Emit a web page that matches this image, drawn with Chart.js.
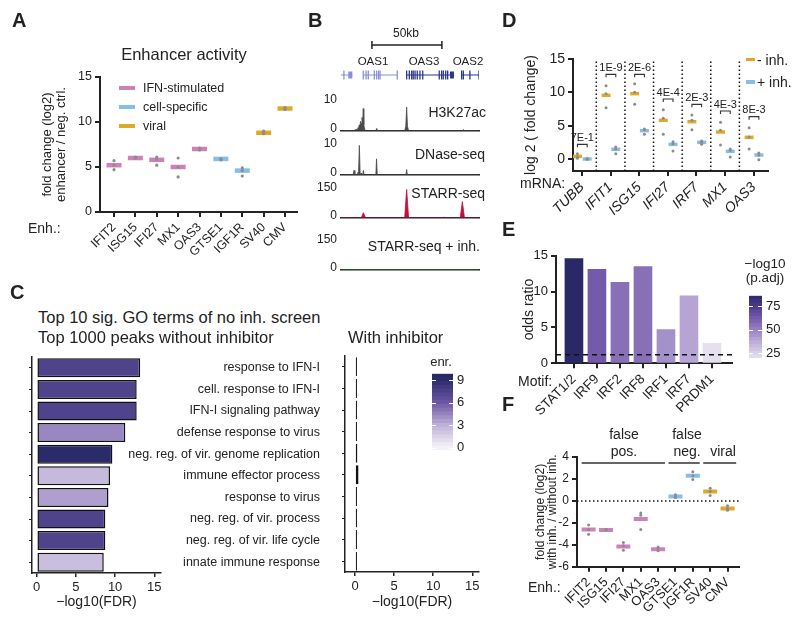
<!DOCTYPE html>
<html>
<head>
<meta charset="utf-8">
<script src="https://cdn.jsdelivr.net/npm/chart.js@4.4.1/dist/chart.umd.min.js"></script>
<style>
  html, body { margin: 0; padding: 0; background: #fff; }
  #fig { position: relative; width: 800px; height: 626px; overflow: hidden;
         font-family: "Liberation Sans", Arial, sans-serif; color: #222; }
  #fig canvas { position: absolute; }
  .t { position: absolute; white-space: nowrap; line-height: 1; }
  .sw { position: absolute; }
</style>
</head>
<body>
<div id="fig"></div>
<script>
/* ============================== DATA ================================== */

// A — enhancer activity, log2 FC enhancer / neg. ctrl.
const enhancers = ["IFIT2", "ISG15", "IFI27", "MX1", "OAS3", "GTSE1", "IGF1R", "SV40", "CMV"];
const enhGroup = ["ifn", "ifn", "ifn", "ifn", "ifn", "cell", "cell", "viral", "viral"];
const activityMedian = [5.2, 6.0, 5.8, 5.0, 7.0, 5.9, 4.6, 8.8, 11.5];
const activityReps = [
  [5.7, 4.7, 5.2], [6.1, 6.0, 6.0], [6.1, 5.2, 5.9], [6.0, 3.9, 5.0], [7.1, 6.9, 7.0],
  [5.9, 5.8, 5.9], [4.9, 4.0, 4.6], [9.0, 8.7, 8.8], [11.6, 11.4, 11.5],
];
const activityTicks = [0, 5, 10, 15];

// B — OAS locus tracks (position in kb)
const geneStart = [-0.7, 15.9, 46.9, 86.2];
const geneEnd = [8.1, 40.2, 80.7, 98.6];
const geneExons = [
  [-0.7, 2.1],
  [15.9, 17.9, 19.5, 23.8, 25.5, 26.9, 27.9, 40.2],
  [46.9, 48.8, 50.5, 51.6, 52.9, 54.5, 56.4, 58.4, 70.2, 71.9, 73.1, 74.8, 76.2],
  [86.2, 87.4, 92.1, 98.6],
];
const geneBlocks = [[5.2, 8.1], null, [77.9, 80.7], null];
const scaleBarKb = [22.1, 72.1];

const h3k27acKb = [0, 9, 10, 11, 11.5, 12, 12.5, 13, 13.5, 14, 14.5, 15, 15.5, 15.9, 16.3, 17, 18,
  24.8, 25.5, 26.2, 45.5, 46.3, 46.9, 47.5, 48.3, 86.5, 87.4, 88.3, 98.6];
const h3k27acVal = [0, 0, 0.3, 0.5, 0.4, 1.0, 0.8, 2.0, 1.5, 3.2, 2.5, 4.5, 3.0, 7.5, 2.0, 0.4, 0,
  0, 0.8, 0, 0, 1.5, 8.0, 1.5, 0, 0, 0.4, 0, 0];
const dnaseKb = [0, 8.7, 9.3, 9.9, 11.5, 12, 12.5, 13.1, 13.7, 14.3, 15.5, 16, 16.5, 24.9, 25.4, 25.9, 46.4, 46.9, 47.4, 98.6];
const dnaseVal = [0, 0, 1.5, 0, 0, 0.8, 0, 10, 0, 0.6, 0, 1.5, 0, 0, 5.4, 0, 0, 1.8, 0, 0];
const starrKb = [0, 14.5, 16, 17.5, 45.5, 46.9, 48.3, 72.3, 73.1, 73.9, 85.2, 86.7, 88.2, 98.6];
const starrVal = [0, 0, 27, 0, 0, 150, 0, 0, 3, 0, 0, 85, 0, 0];
const starrInhKb = [0, 46.5, 46.9, 47.3, 72.7, 73.1, 73.5, 98.6];
const starrInhVal = [0, 0, 1.5, 0, 0, 1.5, 0, 0];

// C — GO terms
const goTerms = ["response to IFN-I", "cell. response to IFN-I", "IFN-I signaling pathway",
  "defense response to virus", "neg. reg. of vir. genome replication", "immune effector process",
  "response to virus", "neg. reg. of vir. process", "neg. reg. of vir. life cycle", "innate immune response"];
const goFdrNoInh = [13.2, 12.75, 12.75, 11.3, 9.65, 9.35, 9.15, 8.75, 8.75, 8.55];
const goEnrNoInh = [7.3, 7.3, 7.3, 4.3, 9.3, 2.5, 3.5, 7.3, 7.3, 2.3];
const goFdrInh = [0.25, 0.25, 0.25, 0.25, 0.3, 0.45, 0.25, 0.25, 0.25, 0.25];
const fdrTicks = [0, 5, 10, 15];
const enrTicks = [0, 3, 6, 9];

// D — mRNA log2 fold change, without / with inhibitor
const mrnaGenes = ["TUBB", "IFIT1", "ISG15", "IFI27", "IRF7", "MX1", "OAS3"];
const mrnaNoInhMedian = [0.4, 9.55, 9.8, 5.8, 5.6, 4.05, 3.25];
const mrnaNoInhReps = [[0.8, 0.3, 0.1], [11.0, 9.8, 7.7], [11.3, 10.0, 8.2], [7.4, 6.1, 3.7],
  [6.6, 5.8, 4.4], [5.5, 4.3, 2.1], [4.7, 3.3, 1.5]];
const mrnaInhMedian = [0.0, 1.45, 4.25, 2.2, 2.5, 1.15, 0.6];
const mrnaInhReps = [[0.05, 0.0, -0.05], [1.8, 1.5, 0.8], [4.5, 4.4, 3.7], [2.6, 2.3, 1.2],
  [2.7, 2.5, 2.2], [1.5, 1.3, 0.3], [0.9, 0.6, -0.1]];
const mrnaPval = ["7E-1", "1E-9", "2E-6", "4E-4", "2E-3", "4E-3", "8E-3"];
const mrnaBracketY = [2.2, 12.7, 12.7, 9.0, 8.2, 7.2, 6.35];
const mrnaTicks = [0, 5, 10, 15];

// E — motif enrichment
const motifs = ["STAT1/2", "IRF9", "IRF2", "IRF8", "IRF1", "IRF7", "PRDM1"];
const motifOdds = [14.6, 13.1, 11.3, 13.5, 4.7, 9.4, 2.8];
const motifPadj = [86, 62, 55, 55, 45, 39, 20];
const oddsThreshold = 1.2;
const oddsTicks = [0, 5, 10, 15];
const padjTicks = [25, 50, 75];

// F — fold change with inh. / without inh.
const inhMedian = [-2.6, -2.65, -4.15, -1.65, -4.4, 0.4, 2.3, 0.85, -0.7];
const inhReps = [[-2.2, -3.05, -2.6], [-2.6, -2.65, -2.6], [-3.8, -4.5, -4.1], [-1.1, -1.3, -2.6],
  [-4.2, -4.55, -4.35], [0.55, 0.35, 0.3], [2.65, 1.95, 2.3], [1.15, 0.5, 0.85], [-0.45, -0.85, -0.7]];
const inhTicks = [-6, -4, -2, 0, 2, 4];
const fGroupSpan = [[-0.4, 4.4], [4.6, 6.4], [6.6, 8.5]];
const fGroupLineY = 3.45;

/* ============================ STYLE =================================== */
const INK = "#222";
const DOT = "#8c8c8c";
const groupColor = { ifn: "#cc82b6", cell: "#86bde9", viral: "#e0a82a" };
const GOLD = "#e0a82a", BLUE = "#86bde9";
const enrStops = [[0, "#f4f2f8"], [3, "#bcaed6"], [6, "#6a55a3"], [9, "#2c2c6c"], [10, "#26275f"]];
const padjStops = [[15, "#f2f0f7"], [40, "#b3a2d3"], [60, "#7a5fae"], [75, "#4b3a92"], [90, "#1f2159"]];

Chart.defaults.font.family = '"Liberation Sans", Arial, sans-serif';
Chart.defaults.font.size = 13;
Chart.defaults.color = INK;
Chart.defaults.animation = false;
Chart.defaults.responsive = false;
Chart.defaults.devicePixelRatio = 1;
Chart.defaults.events = [];
Chart.defaults.plugins.legend.display = false;
Chart.defaults.plugins.tooltip.enabled = false;

/* ============================ HELPERS ================================= */
const fig = document.getElementById("fig");

function canvasAt(x, y, w, h) {
  const c = document.createElement("canvas");
  c.width = w; c.height = h;
  c.style.left = x + "px"; c.style.top = y + "px";
  c.style.width = w + "px"; c.style.height = h + "px";
  fig.appendChild(c);
  return c.getContext("2d");
}

// y is the vertical centre of the text
function text(str, x, y, size, anchor = "left", extra = {}) {
  const d = document.createElement("div");
  d.className = "t";
  d.textContent = str;
  d.style.left = x + "px";
  d.style.top = y + "px";
  d.style.fontSize = size + "px";
  const tx = anchor === "center" ? "-50%" : anchor === "right" ? "-100%" : "0";
  d.style.transform = `translate(${tx}, -50%)`;
  Object.assign(d.style, extra);
  fig.appendChild(d);
}

function swatch(x, y, w, h, color) {
  const d = document.createElement("div");
  d.className = "sw";
  Object.assign(d.style, { left: x + "px", top: (y - h / 2) + "px", width: w + "px", height: h + "px", background: color });
  fig.appendChild(d);
}

function hexToRgb(h) {
  const n = parseInt(h.slice(1), 16);
  return [n >> 16, (n >> 8) & 255, n & 255];
}
function cmap(stops, v) {
  if (v <= stops[0][0]) return stops[0][1];
  for (let k = 1; k < stops.length; k++) {
    if (v <= stops[k][0]) {
      const [v0, c0] = stops[k - 1], [v1, c1] = stops[k];
      const t = (v - v0) / (v1 - v0);
      const a = hexToRgb(c0), b = hexToRgb(c1);
      return `rgb(${a.map((x, j) => Math.round(x + (b[j] - x) * t)).join(",")})`;
    }
  }
  return stops[stops.length - 1][1];
}

// linear axis with fixed box size and explicit ticks
function linAxis(o) {
  return {
    type: "linear", position: o.pos, min: o.min, max: o.max, offset: false,
    afterFit: s => { if (o.size !== undefined) { if (s.isHorizontal()) s.height = o.size; else s.width = o.size; } },
    afterBuildTicks: s => { s.ticks = o.ticks.map(v => ({ value: v })); },
    ticks: {
      display: o.labels !== false, autoSkip: false, padding: o.pad ?? 3, color: INK,
      font: { size: o.fs || 13, style: o.italic ? "italic" : "normal" },
      maxRotation: o.rot || 0, minRotation: o.rot || 0,
      labelOffset: o.labelOffset || 0,
      callback: o.names ? (v => o.names[v]) : (v => v),
    },
    grid: { display: o.tl !== 0, drawOnChartArea: false, drawTicks: o.tl !== 0, tickLength: o.tl ?? 5,
            color: INK, lineWidth: o.lw ?? 2, offset: false },
    border: { display: o.border !== false, color: INK, width: o.lw ?? 2 },
    title: o.title
      ? { display: true, text: o.title, color: INK, font: { size: o.tfs || 13, lineHeight: o.tlh || 1.1 }, padding: o.tpad || 0 }
      : { display: false },
  };
}

function repPoints(reps, dx = 0) {
  return reps.flatMap((r, i) => r.map(v => ({ x: i + dx, y: v })));
}

function cbarTicksPlugin(ticks) {
  return {
    id: "cbarTicks",
    afterDatasetsDraw(chart) {
      const { ctx, chartArea: a, scales: { y } } = chart;
      ctx.save();
      ctx.strokeStyle = "#fff";
      ctx.lineWidth = 1;
      ticks.forEach(v => {
        const py = Math.round(y.getPixelForValue(v)) + 0.5;
        ctx.beginPath();
        ctx.moveTo(a.left, py); ctx.lineTo(a.left + 4, py);
        ctx.moveTo(a.right - 4, py); ctx.lineTo(a.right, py);
        ctx.stroke();
      });
      ctx.restore();
    },
  };
}

function colorbar(x, y, w, h, o) {
  const ctx = canvasAt(x, y, w, h);
  const step = (o.max - o.min) / o.steps;
  const bands = Array.from({ length: o.steps }, (_, k) => o.min + k * step);
  new Chart(ctx, {
    type: "bar",
    data: {
      labels: [""],
      datasets: bands.map(lo => ({
        data: [[lo, lo + step * 1.05]], backgroundColor: cmap(o.stops, lo + step / 2),
        borderWidth: 0, grouped: false, barPercentage: 1, categoryPercentage: 1,
      })),
    },
    options: {
      layout: { padding: o.pad },
      scales: {
        x: { display: false },
        y: linAxis({ pos: "right", min: o.min, max: o.max, ticks: o.ticks, size: o.axisW, tl: 0, border: false, fs: 13, pad: 4 }),
      },
    },
    plugins: [cbarTicksPlugin(o.ticks)],
  });
}

/* ============================ PANEL A ================================= */
(() => {
  const ctx = canvasAt(0, 30, 310, 240);
  new Chart(ctx, {
    type: "scatter",
    data: {
      datasets: [
        { data: repPoints(activityReps), pointRadius: 1.6, pointBackgroundColor: DOT, pointBorderWidth: 0, order: 0 },
        { data: activityMedian.map((v, i) => ({ x: i, y: v })), pointStyle: "line", pointRadius: 7.5,
          pointBorderWidth: 4.5, pointBorderColor: enhGroup.map(g => groupColor[g]), order: 1 },
      ],
    },
    options: {
      layout: { padding: { left: 0, top: 47, right: 13, bottom: 0 } },
      scales: {
        x: linAxis({ pos: "bottom", min: -0.655, max: 8.56, ticks: enhancers.map((_, i) => i), names: enhancers, rot: 45, size: 58, fs: 12.5 }),
        y: linAxis({ pos: "left", min: 0, max: 15, ticks: activityTicks, size: 100, fs: 12.5,
                     title: ["fold change (log2)", "enhancer / neg. ctrl."], tfs: 13, tpad: { top: 40 } }),
      },
    },
  });

  text("A", 12, 20, 20, "left", { fontWeight: "bold" });
  text("Enhancer activity", 184, 53.5, 16.5, "center");
  [["IFN-stimulated", "ifn", 88], ["cell-specific", "cell", 107], ["viral", "viral", 126]].forEach(([lab, g, y]) => {
    swatch(119, y, 16, 4.5, groupColor[g]);
    text(lab, 143, y, 12.5);
  });
  text("Enh.:", 28, 228, 14);
})();

/* ============================ PANEL B ================================= */
(() => {
  // gene models + scale bar
  const ctx = canvasAt(300, 25, 190, 70);
  const geneRowY = 1.7, scaleBarY = 5.3;
  const ds = [];
  geneStart.forEach((s, k) => {
    const col = k < 2 ? "#8a8fd8" : "#2b3590";
    ds.push({ data: [{ x: s, y: geneRowY }, { x: geneEnd[k], y: geneRowY }], showLine: true,
              borderColor: col, borderWidth: 1.2, pointRadius: 0 });
    ds.push({ data: geneExons[k].map(x => ({ x, y: geneRowY })), pointStyle: "line", pointRotation: 90,
              pointRadius: 4.5, pointBorderWidth: 1.3, pointBorderColor: col });
    if (geneBlocks[k]) {
      ds.push({ data: geneBlocks[k].map(x => ({ x, y: geneRowY })), showLine: true,
                borderColor: col, borderWidth: 7, pointRadius: 0 });
    }
  });
  ds.push({ data: scaleBarKb.map(x => ({ x, y: scaleBarY })), showLine: true, borderColor: INK, borderWidth: 1.5,
            pointStyle: "line", pointRotation: 90, pointRadius: 4, pointBorderWidth: 1.5, pointBorderColor: INK });
  new Chart(ctx, {
    type: "scatter",
    data: { datasets: ds },
    options: {
      layout: { padding: { left: 41, top: 0, right: 11, bottom: 0 } },
      scales: {
        x: { type: "linear", display: false, min: 0, max: 98.6 },
        y: { type: "linear", display: false, min: 0, max: 7 },
      },
    },
  });

  function track(top, h, xs, ys, ymax, color) {
    const c = canvasAt(300, top, 190, h);
    new Chart(c, {
      type: "scatter",
      data: { datasets: [{ data: xs.map((x, k) => ({ x, y: ys[k] })), showLine: true, fill: "origin",
                           borderColor: color, backgroundColor: color, borderWidth: 0.8, pointRadius: 0 }] },
      options: {
        layout: { padding: { left: 0, top: 9, right: 11, bottom: 5 } },
        scales: {
          x: { type: "linear", min: 0, max: 98.6, afterFit: s => { s.height = 0; },
               ticks: { display: false }, grid: { display: false, drawTicks: false },
               border: { display: true, color: INK, width: 1.5 } },
          y: linAxis({ pos: "left", min: 0, max: ymax, ticks: [0, ymax], size: 41, tl: 0, border: false, fs: 12, pad: 4, labelOffset: -2 }),
        },
      },
    });
  }
  track(90, 52, h3k27acKb, h3k27acVal, 10, "#4a4a4a");
  track(134, 52, dnaseKb, dnaseVal, 10, "#4a4a4a");
  track(178, 51, starrKb, starrVal, 150, "#c0103a");
  track(230, 51, starrInhKb, starrInhVal, 150, "#2a9a3a");

  text("B", 308, 20, 20, "left", { fontWeight: "bold" });
  text("50kb", 406, 33, 12, "center");
  [["OAS1", 373], ["OAS3", 424], ["OAS2", 468]].forEach(([g, x]) => text(g, x, 61.5, 11.5, "center"));
  text("H3K27ac", 486, 112, 14, "right");
  text("DNase-seq", 485, 154, 14, "right");
  text("STARR-seq", 485, 193, 14, "right");
  text("STARR-seq + inh.", 480, 246, 14, "right");
})();

/* ============================ PANEL C ================================= */
(() => {
  const enrColor = v => cmap(enrStops, v);
  const rowLabels = {
    id: "rowLabels",
    afterDatasetsDraw(chart) {
      const { ctx, scales: { y } } = chart;
      ctx.save();
      ctx.font = '12.5px "Liberation Sans", Arial, sans-serif';
      ctx.fillStyle = INK;
      ctx.textAlign = "right";
      ctx.textBaseline = "middle";
      goTerms.forEach((l, i) => ctx.fillText(l, 320, y.getPixelForValue(i)));
      ctx.restore();
    },
  };
  const catAxis = w => ({
    type: "category", position: "left", afterFit: s => { s.width = w; },
    ticks: { display: false },
    grid: { drawOnChartArea: false, drawTicks: true, tickLength: 3, color: INK, lineWidth: 1, offset: false },
    border: { color: INK, width: 1.5 },
  });
  const fdrAxis = (min, size) => linAxis({ pos: "bottom", min, max: 15.85, ticks: fdrTicks, size, lw: 1.5, tl: 4, fs: 13,
                                            title: "\u2212log10(FDR)", tfs: 14, tpad: { bottom: 5.6 } });

  new Chart(canvasAt(0, 345, 330, 270), {
    type: "bar",
    data: { labels: goTerms, datasets: [{ data: goFdrNoInh, backgroundColor: goEnrNoInh.map(enrColor),
            borderColor: "#111", borderWidth: 1.5, borderSkipped: false, barPercentage: 0.88, categoryPercentage: 1 }] },
    options: {
      indexAxis: "y",
      layout: { padding: { left: 0, top: 12, right: 169, bottom: 0 } },
      scales: { x: fdrAxis(-0.6, 42), y: catAxis(32) },
    },
    plugins: [rowLabels],
  });

  // with inhibitor: bars are barely above zero, so they read as thin black strokes
  new Chart(canvasAt(330, 345, 160, 270), {
    type: "bar",
    data: { labels: goTerms, datasets: [{ data: goFdrInh, backgroundColor: "#111",
            borderColor: "#111", borderWidth: 1.5, borderSkipped: false, barPercentage: 0.88, categoryPercentage: 1 }] },
    options: {
      indexAxis: "y",
      layout: { padding: { left: 0, top: 11, right: 11, bottom: 0 } },
      scales: { x: fdrAxis(-1.28, 43), y: catAxis(15) },
    },
  });

  colorbar(425, 362, 50, 100, { min: -0.36, max: 9.84, steps: 20, stops: enrStops, ticks: enrTicks,
                                axisW: 22, pad: { left: 7, top: 8, right: 0, bottom: 7 } });

  text("C", 10, 292, 20, "left", { fontWeight: "bold" });
  text("Top 10 sig. GO terms of no inh. screen", 38, 316.5, 16.5);
  text("Top 1000 peaks without inhibitor", 38, 336.5, 16.5);
  text("With inhibitor", 348, 336.5, 16.5);
  text("enr.", 441, 361, 13, "center");
})();

/* ============================ PANEL D ================================= */
(() => {
  const dxGold = -0.16, dxBlue = 0.18;
  const sep = [];
  for (let i = 0; i < mrnaGenes.length - 1; i++) {
    sep.push({ x: i + 0.5, y: -1.8 }, { x: i + 0.5, y: 15 }, { x: i + 0.5, y: null });
  }
  const brackets = [];
  mrnaBracketY.forEach((b, i) => {
    brackets.push({ x: i + dxGold, y: b - 0.45 }, { x: i + dxGold, y: b }, { x: i + dxBlue, y: b },
                  { x: i + dxBlue, y: b - 0.45 }, { x: i, y: null });
  });
  const pLabels = {
    id: "pLabels",
    afterDatasetsDraw(chart) {
      const { ctx, scales: { x, y } } = chart;
      ctx.save();
      ctx.font = '11px "Liberation Sans", Arial, sans-serif';
      ctx.fillStyle = INK;
      ctx.textAlign = "center";
      ctx.textBaseline = "alphabetic";
      mrnaPval.forEach((p, i) => ctx.fillText(p, x.getPixelForValue(i + 0.01), y.getPixelForValue(mrnaBracketY[i]) - 3.5));
      ctx.restore();
    },
  };

  new Chart(canvasAt(515, 40, 285, 185), {
    type: "scatter",
    data: {
      datasets: [
        { data: repPoints(mrnaNoInhReps, dxGold), pointRadius: 1.5, pointBackgroundColor: DOT, pointBorderWidth: 0, order: 0 },
        { data: repPoints(mrnaInhReps, dxBlue), pointRadius: 1.5, pointBackgroundColor: DOT, pointBorderWidth: 0, order: 0 },
        { data: mrnaNoInhMedian.map((v, i) => ({ x: i + dxGold, y: v })), pointStyle: "line", pointRadius: 4.5,
          pointBorderWidth: 3.5, pointBorderColor: GOLD, order: 1 },
        { data: mrnaInhMedian.map((v, i) => ({ x: i + dxBlue, y: v })), pointStyle: "line", pointRadius: 4.5,
          pointBorderWidth: 3.5, pointBorderColor: BLUE, order: 1 },
        { data: sep, showLine: true, borderColor: "#111", borderWidth: 1.5, borderDash: [1.5, 2.5], pointRadius: 0, order: 2 },
        { data: brackets, showLine: true, borderColor: "#333", borderWidth: 1.1, pointRadius: 0, order: 2 },
      ],
    },
    options: {
      layout: { padding: { left: 0, top: 19, right: 32, bottom: 0 } },
      scales: {
        x: linAxis({ pos: "bottom", min: -0.315, max: 6.5, ticks: mrnaGenes.map((_, i) => i), names: mrnaGenes,
                     rot: 45, size: 54, fs: 14, italic: true }),
        y: linAxis({ pos: "left", min: -1.8, max: 15, ticks: mrnaTicks, size: 58, fs: 14,
                     title: "log 2 ( fold change)", tfs: 14, tpad: { top: 8.3 } }),
      },
    },
    plugins: [pLabels],
  });

  text("D", 502, 20, 20, "left", { fontWeight: "bold" });
  swatch(746, 59.5, 9, 3.5, GOLD);
  text("- inh.", 757, 59.5, 14);
  swatch(746, 82, 9, 3.5, BLUE);
  text("+ inh.", 757, 82, 14);
  text("mRNA:", 520, 183, 14);
})();

/* ============================ PANEL E ================================= */
(() => {
  const xMin = -0.78, xMax = 6.87;
  new Chart(canvasAt(510, 245, 230, 175), {
    type: "bar",
    data: {
      datasets: [
        { type: "line", data: [{ x: xMin, y: oddsThreshold }, { x: xMax, y: oddsThreshold }], borderColor: "#111",
          borderWidth: 1.5, borderDash: [5, 4], pointRadius: 0, order: 0 },
        { data: motifOdds.map((v, i) => ({ x: i, y: v })), backgroundColor: motifPadj.map(p => cmap(padjStops, p)),
          barThickness: 18, order: 1 },
      ],
    },
    options: {
      layout: { padding: { left: 0, top: 9, right: 8, bottom: 0 } },
      scales: {
        x: linAxis({ pos: "bottom", min: xMin, max: xMax, ticks: motifs.map((_, i) => i), names: motifs, rot: 45, size: 56.7, fs: 13.5 }),
        y: linAxis({ pos: "left", min: 0, max: 15, ticks: oddsTicks, size: 46, fs: 13,
                     title: "odds ratio", tfs: 14, tpad: { top: 11.3 } }),
      },
    },
  });

  colorbar(740, 284, 60, 86, { min: 19.6, max: 86, steps: 18, stops: padjStops, ticks: padjTicks,
                               axisW: 38, pad: { left: 9, top: 8, right: 0, bottom: 8 } });

  text("E", 502, 229, 20, "left", { fontWeight: "bold" });
  text("\u2212log10", 765, 264, 13.5, "center");
  text("(p.adj)", 765, 278, 13.5, "center");
  text("Motif:", 518, 381, 14);
})();

/* ============================ PANEL F ================================= */
(() => {
  const xMin = -0.67, xMax = 8.66;
  const groupLines = [];
  fGroupSpan.forEach(([a, b]) => groupLines.push({ x: a, y: fGroupLineY }, { x: b, y: fGroupLineY }, { x: b, y: null }));

  new Chart(canvasAt(520, 445, 230, 175), {
    type: "scatter",
    data: {
      datasets: [
        { data: repPoints(inhReps), pointRadius: 1.5, pointBackgroundColor: DOT, pointBorderWidth: 0, order: 0 },
        { data: inhMedian.map((v, i) => ({ x: i, y: v })), pointStyle: "line", pointRadius: 7,
          pointBorderWidth: 4, pointBorderColor: enhGroup.map(g => groupColor[g]), order: 1 },
        { data: [{ x: xMin, y: 0 }, { x: xMax, y: 0 }], showLine: true, borderColor: "#111", borderWidth: 1.5,
          borderDash: [1.5, 2.5], pointRadius: 0, order: 2 },
        { data: groupLines, showLine: true, borderColor: "#333", borderWidth: 1.5, pointRadius: 0, order: 2 },
      ],
    },
    options: {
      layout: { padding: { left: 0, top: 12, right: 6, bottom: 0 } },
      scales: {
        x: linAxis({ pos: "bottom", min: xMin, max: xMax, ticks: enhancers.map((_, i) => i), names: enhancers, rot: 45, size: 53.3, fs: 13 }),
        y: linAxis({ pos: "left", min: -6, max: 4, ticks: inhTicks, size: 57, fs: 12,
                     title: ["fold change (log2)", "with inh. / without inh."], tfs: 12, tlh: 0.95, tpad: { top: 15.3 } }),
      },
    },
  });

  text("F", 502, 404, 20, "left", { fontWeight: "bold" });
  text("false", 624, 434, 14, "center");
  text("pos.", 624, 451, 14, "center");
  text("false", 687, 434, 14, "center");
  text("neg.", 687, 451, 14, "center");
  text("viral", 723, 451, 14, "center");
  text("Enh.:", 528, 587, 14);
})();
</script>
</body>
</html>
